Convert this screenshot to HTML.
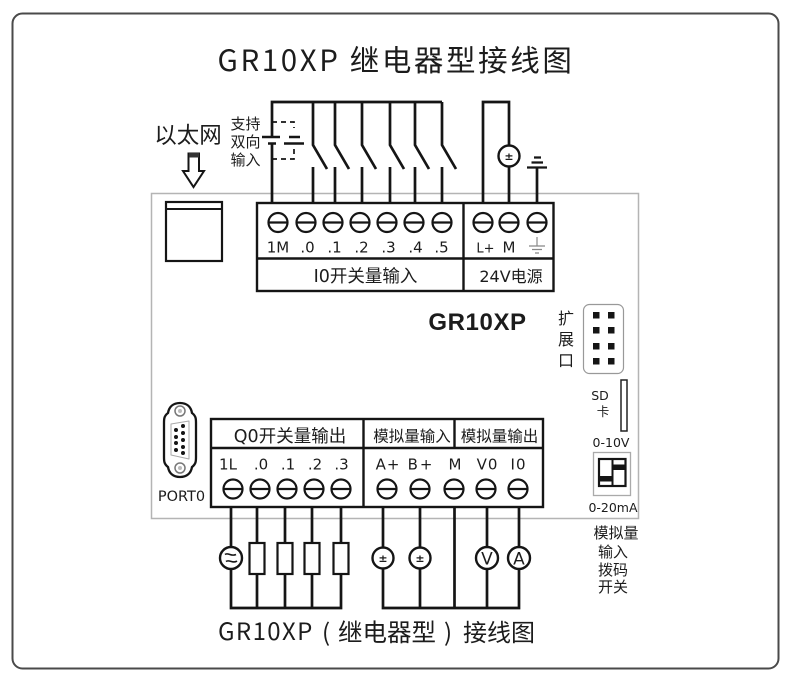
<!DOCTYPE html>
<html lang="zh"><head><meta charset="utf-8"><title>GR10XP 继电器型接线图</title>
<style>
html,body{margin:0;padding:0;background:#fff;width:790px;height:679px;overflow:hidden}
svg{display:block}
text{fill:#1c1c1c;text-anchor:middle;font-family:"DejaVu Sans","Noto Sans CJK SC",sans-serif}
.n{font-family:"Noto Sans CJK SC",sans-serif}
.s{text-anchor:start;font-family:"Noto Sans CJK SC",sans-serif;font-size:24px}
.w{fill:none;stroke:#151515;stroke-width:2.7}
.t{font-size:15px}
</style></head><body>
<svg width="790" height="679" viewBox="0 0 790 679" xmlns="http://www.w3.org/2000/svg">
<defs>
<g id="term"><circle r="9.500" fill="#fff" stroke="#151515" stroke-width="2.200"/><path d="M-9.500 0H9.500" stroke="#151515" stroke-width="2.200"/></g>
<g id="sw"><path class="w" d="M0 102V145L14 169M0 167V203"/></g>
<g id="pm"><circle r="10.500" fill="#fff" stroke="#151515" stroke-width="2.400"/><text y="4" style="font-size:11px;font-weight:bold">±</text></g>
<g id="res"><rect x="-7.500" y="543" width="15" height="31" fill="#fff" stroke="#151515" stroke-width="2.200"/></g>
</defs>
<rect x="12.500" y="13.500" width="766" height="655" rx="10" fill="#fff" stroke="#4a4a4a" stroke-width="2"/>
<rect x="151.500" y="193.500" width="487" height="325" fill="#fff" stroke="#b4b4b4" stroke-width="1.500"/>

<!-- title -->
<text x="396" y="71" class="n" style="font-size:29.500px;letter-spacing:2.600px">GR10XP 继电器型接线图</text>

<!-- ethernet -->
<text x="188" y="143" class="n" style="font-size:22.500px">以太网</text>
<path d="M188.500 153.500H199V171H204L193.500 187L183 171H188.500Z" fill="#fff" stroke="#151515" stroke-width="2"/>
<rect x="189" y="153" width="10" height="4.500" fill="#333"/>
<rect x="166" y="202" width="56" height="59" fill="#fff" stroke="#151515" stroke-width="2.200"/>
<path d="M166 209H222" stroke="#151515" stroke-width="2"/>

<!-- top wires -->
<path class="w" d="M272 203V143M272 137V102H442"/>
<path d="M262 137H280M268 143.500H276" stroke="#151515" stroke-width="2.600"/>
<path d="M272 122H294V128" fill="none" stroke="#151515" stroke-width="1.700" stroke-dasharray="5 4"/>
<path d="M272 159H294V149" fill="none" stroke="#151515" stroke-width="1.700" stroke-dasharray="5 4"/>
<path d="M289 137H300M284 143.500H304" stroke="#151515" stroke-width="2.400"/>
<use href="#sw" x="313"/><use href="#sw" x="335"/><use href="#sw" x="362"/><use href="#sw" x="390"/><use href="#sw" x="415"/><use href="#sw" x="442"/>
<path class="w" d="M483 203V102H509V203"/>
<use href="#pm" x="509" y="156"/>
<path class="w" d="M537 167V203"/>
<path d="M527 167.500H547M531.500 162.500H543M534 157.500H541" stroke="#151515" stroke-width="2.200"/>
<text x="245.500" y="129" class="n" style="font-size:15px">支持</text>
<text x="245.500" y="147" class="n" style="font-size:15px">双向</text>
<text x="245.500" y="165" class="n" style="font-size:15px">输入</text>

<!-- top terminal block -->
<rect x="257" y="203" width="296.500" height="88" fill="#fff" stroke="#151515" stroke-width="2.400"/>
<path d="M257 258.500H553M463.500 203V291" stroke="#151515" stroke-width="2.400"/>
<use href="#term" x="278" y="222.500"/><use href="#term" x="306" y="222.500"/><use href="#term" x="333" y="222.500"/><use href="#term" x="360" y="222.500"/><use href="#term" x="387" y="222.500"/><use href="#term" x="414" y="222.500"/><use href="#term" x="442" y="222.500"/>
<use href="#term" x="483" y="222.500"/><use href="#term" x="509" y="222.500"/><use href="#term" x="537" y="222.500"/>
<text x="278" y="252.500" class="t">1M</text><text x="307.500" y="252.500" class="t">.0</text><text x="334.500" y="252.500" class="t">.1</text><text x="361.500" y="252.500" class="t">.2</text><text x="388.500" y="252.500" class="t">.3</text><text x="415.500" y="252.500" class="t">.4</text><text x="441.500" y="252.500" class="t">.5</text>
<text x="485.500" y="252.500" style="font-size:13px">L+</text><text x="509" y="252.500" class="t">M</text>
<path d="M537 237V246M529 246H545M532 249.500H542M535 253H539" stroke="#888" stroke-width="1.200" fill="none"/>
<text x="365.500" y="282" style="font-size:17.500px">I0开关量输入</text>
<text x="511" y="282" style="font-size:16px">24V电源</text>

<!-- model -->
<text x="477.500" y="330" style="font-size:24px;font-weight:bold;font-family:'Liberation Sans',sans-serif;letter-spacing:.6px">GR10XP</text>
<text x="566" y="324" class="n" style="font-size:16px">扩</text>
<text x="566" y="345" class="n" style="font-size:16px">展</text>
<text x="566" y="366" class="n" style="font-size:16px">口</text>
<rect x="583.500" y="304.500" width="40" height="69" rx="6" fill="#fff" stroke="#999" stroke-width="1.200"/>
<g fill="#151515"><rect x="593" y="312" width="6.500" height="6.500"/><rect x="608" y="312" width="6.500" height="6.500"/><rect x="593" y="327" width="6.500" height="6.500"/><rect x="608" y="327" width="6.500" height="6.500"/><rect x="593" y="343" width="6.500" height="6.500"/><rect x="608" y="343" width="6.500" height="6.500"/><rect x="593" y="358" width="6.500" height="6.500"/><rect x="608" y="358" width="6.500" height="6.500"/></g>

<!-- SD & DIP -->
<rect x="621" y="380" width="6" height="51" fill="#fff" stroke="#222" stroke-width="1.500"/>
<text x="600" y="400" style="font-size:12.500px">SD</text>
<text x="603" y="416" class="n" style="font-size:12.500px">卡</text>
<text x="611" y="447" style="font-size:12.500px">0-10V</text>
<rect x="593.500" y="452.500" width="37" height="43" fill="#fff" stroke="#aaa" stroke-width="1.300"/>
<rect x="599" y="459" width="26.500" height="27" fill="#fff" stroke="#151515" stroke-width="2.200"/>
<path d="M612.500 459V486" stroke="#151515" stroke-width="2"/>
<rect x="599" y="476" width="13" height="5.500" fill="#151515"/>
<rect x="612" y="464.500" width="13" height="5.500" fill="#151515"/>
<text x="613" y="512" style="font-size:12.500px">0-20mA</text>
<text x="616" y="538" class="n" style="font-size:15px">模拟量</text><text x="613" y="557" class="n" style="font-size:15px">输入</text><text x="613" y="575" class="n" style="font-size:15px">拨码</text><text x="613" y="592" class="n" style="font-size:15px">开关</text>

<!-- DB9 -->
<path d="M180 403C187 403 191 407 192 413C196 416 196 419 196 423V457C196 461 196 464 192 467C191 473 187 477 180 477C173 477 169 473 168 467C164 464 164 461 164 457V423C164 419 164 416 168 413C169 407 173 403 180 403Z" fill="#fff" stroke="#151515" stroke-width="2.300"/>
<circle cx="180" cy="411" r="5" fill="#fff" stroke="#777" stroke-width="1.500"/><circle cx="180" cy="468" r="5" fill="#fff" stroke="#777" stroke-width="1.500"/>
<circle cx="180" cy="411" r="2" fill="#bbb"/><circle cx="180" cy="468" r="2" fill="#bbb"/>
<path d="M171 424L189 421V459L171 455Z" fill="#fff" stroke="#aaa" stroke-width="1" stroke-linejoin="round"/>
<g fill="#151515"><circle cx="183" cy="426" r="2"/><circle cx="183" cy="433" r="2"/><circle cx="183" cy="440" r="2"/><circle cx="183" cy="447" r="2"/><circle cx="183" cy="453" r="2"/><circle cx="176" cy="430" r="2"/><circle cx="176" cy="437" r="2"/><circle cx="176" cy="443" r="2"/><circle cx="176" cy="450" r="2"/></g>
<text x="181.500" y="501" style="font-size:14.500px">PORT0</text>

<!-- bottom wires -->
<path class="w" d="M231 507V608H341V507M257 507V608M285 507V608M312 507V608"/>
<path class="w" d="M383 507V608H519V507M420 507V608M454.500 507V608M487 507V608"/>
<circle cx="231" cy="558" r="11" fill="#fff" stroke="#151515" stroke-width="2.400"/>
<path d="M225 554.500C228 552 231 557 236 554.500M226 561.500C229 559 233 564 237 561" fill="none" stroke="#151515" stroke-width="1.600"/>
<use href="#res" x="257"/><use href="#res" x="285"/><use href="#res" x="312"/><use href="#res" x="341"/>
<use href="#pm" x="383" y="558"/><use href="#pm" x="420" y="558"/>
<circle cx="487" cy="558" r="11" fill="#fff" stroke="#151515" stroke-width="2.400"/><text x="487" y="564.500" style="font-size:17px">V</text>
<circle cx="519" cy="558" r="11" fill="#fff" stroke="#151515" stroke-width="2.400"/><text x="519" y="564.500" style="font-size:17px">A</text>

<!-- bottom block -->
<rect x="211" y="419" width="332" height="88" fill="#fff" stroke="#151515" stroke-width="2.400"/>
<path d="M211 448H543M363.500 419V507M454.500 419V448" stroke="#151515" stroke-width="2.400"/>
<text x="290" y="442" style="font-size:17.500px">Q0开关量输出</text>
<text x="412" y="441.500" class="n" style="font-size:15.500px">模拟量输入</text>
<text x="499.500" y="441.500" class="n" style="font-size:15.500px">模拟量输出</text>
<text x="228" y="469.500" class="t">1L</text><text x="261" y="469.500" class="t">.0</text><text x="288" y="469.500" class="t">.1</text><text x="315" y="469.500" class="t">.2</text><text x="341.500" y="469.500" class="t">.3</text>
<text x="388" y="469.500" class="t" style="letter-spacing:1px">A+</text><text x="421" y="469.500" class="t" style="letter-spacing:2px">B+</text><text x="455" y="469.500" class="t">M</text><text x="487.500" y="469.500" class="t" style="letter-spacing:1px">V0</text><text x="518.500" y="469.500" class="t" style="letter-spacing:1px">I0</text>
<use href="#term" x="233" y="489"/><use href="#term" x="260" y="489"/><use href="#term" x="287" y="489"/><use href="#term" x="314" y="489"/><use href="#term" x="341" y="489"/>
<use href="#term" x="387" y="489"/><use href="#term" x="420" y="489"/><use href="#term" x="454" y="489"/><use href="#term" x="486" y="489"/><use href="#term" x="518" y="489"/>

<text x="218" y="640" class="s" style="letter-spacing:1.400px">GR10XP</text>
<text x="322" y="641" class="s">(</text>
<text x="338" y="641" class="s" style="font-size:24.500px">继电器型</text>
<text x="444" y="641" class="s">)</text>
<text x="463" y="641" class="s">接线图</text>
</svg>
</body></html>
